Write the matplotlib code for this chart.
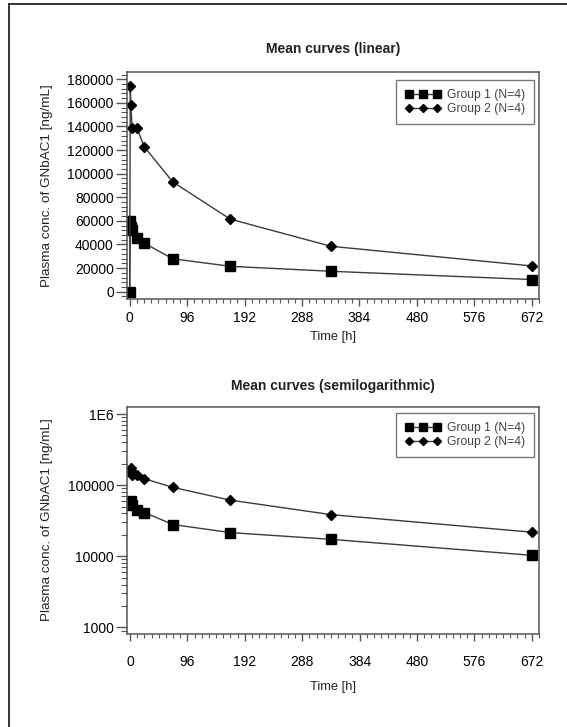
import matplotlib
matplotlib.use('Agg')
import matplotlib.pyplot as plt
from matplotlib.lines import Line2D
from matplotlib.ticker import MultipleLocator, LogLocator, NullFormatter

# --- Data ---
TIME_H = [0, 1, 2, 4, 12, 24, 72, 168, 336, 672]
GROUP1 = [0, 59500, 55000, 52000, 45400, 41200, 27900, 21500, 17300, 10300]
GROUP2 = [0, 174000, 158000, 139000, 139000, 123000, 93000, 61500, 38500, 21800]
LABEL1 = 'Group 1 (N=4)'
LABEL2 = 'Group 2 (N=4)'
Y_LABEL = 'Plasma conc. of GNbAC1 [ng/mL]'
X_LABEL = 'Time [h]'
X_TICKS = [0, 96, 192, 288, 384, 480, 576, 672]
LOG_TICKS = [1000, 10000, 100000, 1000000]
LOG_TICK_LABELS = ['1000', '10000', '100000', '1E6']

W, H = 567, 727
plt.rcParams['font.family'] = ['Liberation Sans', 'DejaVu Sans']
plt.rcParams['text.color'] = '#222222'

fig = plt.figure(figsize=(W / 100, H / 100), dpi=100)

# page frame (top and left edges)
fig.add_artist(Line2D([8.5 / W, 8.5 / W], [0, 1 - 4 / H], transform=fig.transFigure,
                      color='#333333', lw=1.4))
fig.add_artist(Line2D([8.5 / W, 1], [1 - 4 / H, 1 - 4 / H], transform=fig.transFigure,
                      color='#333333', lw=1.4))


def box(left, top, right, bottom):
    return [left / W, 1 - bottom / H, (right - left) / W, (bottom - top) / H]


def style_axes(ax, tick_pad_x):
    for sp in ax.spines.values():
        sp.set_color('#555555')
        sp.set_linewidth(1.1)
    ax.set_xlim(-4.5, 684.5)
    ax.set_xticks(X_TICKS)
    ax.xaxis.set_minor_locator(MultipleLocator(12))
    ax.tick_params(axis='x', which='major', direction='out', length=5, width=1,
                   color='#555555', labelsize=10, pad=tick_pad_x)
    ax.tick_params(axis='x', which='minor', direction='out', length=3, width=0.8,
                   color='#555555')
    ax.tick_params(axis='y', which='major', direction='out', length=8, width=1,
                   color='#555555', labelsize=10, pad=1.5)
    ax.tick_params(axis='y', which='minor', direction='out', length=4, width=0.8,
                   color='#555555')


def add_legend(ax, y_anchor):
    leg = ax.legend(loc='upper right', bbox_to_anchor=(0.988, y_anchor), fontsize=8.7,
                    numpoints=3, handlelength=2.9, handletextpad=0.55, labelspacing=0.15,
                    borderpad=0.75, borderaxespad=0, fancybox=False, framealpha=1,
                    edgecolor='#777777')
    leg.get_frame().set_linewidth(1.0)
    handles = leg.legend_handles
    handles[0].set_markersize(6)
    handles[1].set_markersize(4.2)
    for t in leg.get_texts():
        t.set_color('#444444')


line_kw = dict(color='#3a3a3a', lw=1.0, mfc='black', mec='black')

# --- Linear plot ---
ax1 = fig.add_axes(box(127, 72.3, 539.3, 299))
ax1.plot(TIME_H, GROUP1, marker='s', ms=6.5, label=LABEL1, **line_kw)
ax1.plot(TIME_H, GROUP2, marker='D', ms=5.5, label=LABEL2, **line_kw)
ax1.set_ylim(-6200, 185900)
ax1.yaxis.set_major_locator(MultipleLocator(20000))
ax1.yaxis.set_minor_locator(MultipleLocator(4000))
style_axes(ax1, 4)
add_legend(ax1, 0.966)
fig.text((127 + 539.3) / 2 / W, 1 - 49 / H, 'Mean curves (linear)', ha='center', va='center',
         fontsize=10, fontweight='bold')
fig.text(46.7 / W, 1 - 185.6 / H, Y_LABEL, rotation=90, ha='center', va='center', fontsize=9.7)
fig.text((127 + 539.3) / 2 / W, 1 - 337 / H, X_LABEL, ha='center', va='center', fontsize=9.3)

# --- Semilogarithmic plot ---
ax2 = fig.add_axes(box(127.3, 406.7, 539.3, 634))
ax2.plot(TIME_H[1:], GROUP1[1:], marker='s', ms=6.5, label=LABEL1, **line_kw)
ax2.plot(TIME_H[1:], GROUP2[1:], marker='D', ms=5.5, label=LABEL2, **line_kw)
ax2.set_yscale('log')
ax2.set_ylim(805, 1.27e6)
ax2.set_yticks(LOG_TICKS, LOG_TICK_LABELS)
ax2.yaxis.set_minor_locator(LogLocator(base=10, subs=range(2, 10)))
ax2.yaxis.set_minor_formatter(NullFormatter())
style_axes(ax2, 10)
add_legend(ax2, 0.971)
fig.text((127.3 + 539.3) / 2 / W, 1 - 386 / H, 'Mean curves (semilogarithmic)', ha='center',
         va='center', fontsize=10, fontweight='bold')
fig.text(46.7 / W, 1 - 520 / H, Y_LABEL, rotation=90, ha='center', va='center', fontsize=9.7)
fig.text((127.3 + 539.3) / 2 / W, 1 - 687 / H, X_LABEL, ha='center', va='center', fontsize=9.3)

fig.savefig('out.png', dpi=100)
